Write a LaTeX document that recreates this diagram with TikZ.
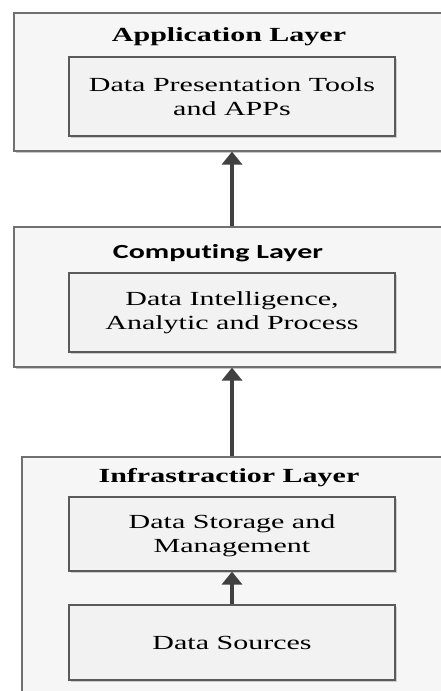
\documentclass[tikz,border=0pt]{standalone}
\usepackage{fontspec}
\setmainfont{Liberation Serif}[FakeStretch=1.5]
\newfontfamily\calibfont{Carlito}[FakeStretch=1.5,Ligatures=NoCommon]
\usetikzlibrary{shadows,arrows.meta}
\definecolor{outerfill}{RGB}{246,246,246}
\definecolor{innerfill}{RGB}{242,242,242}
\definecolor{outerline}{RGB}{112,112,112}
\definecolor{innerline}{RGB}{90,90,90}
\definecolor{arrowcol}{RGB}{64,64,64}
\tikzset{
  outerbox/.style={draw=outerline, fill=outerfill, line width=1.2pt, rectangle, inner sep=0pt,
    drop shadow={shadow xshift=1.5pt, shadow yshift=-2pt, fill=black!35, opacity=0.6}},
  innerbox/.style={draw=innerline, fill=innerfill, line width=1.2pt, rectangle, inner sep=0pt,
    minimum width=326pt, align=center, font=\fontsize{20}{24}\selectfont,
    drop shadow={shadow xshift=2pt, shadow yshift=-2pt, fill=black!30, opacity=0.6}},
  titletext/.style={anchor=base, inner sep=0pt, font=\fontsize{20}{24}\selectfont\bfseries},
  uparrow/.style={draw=arrowcol, line width=3.3pt, -{Triangle[width=20pt,length=13pt]}}
}
\begin{document}
\begin{tikzpicture}[x=1pt,y=-1pt]
\useasboundingbox (0,0) rectangle (441,691);
\fill[white] (0,0) rectangle (441,691);
% Application layer
\node[outerbox, minimum width=446pt, minimum height=138pt] (outA) at (237,82) {};
\node[titletext] (titleA) at (229,41) {Application Layer};
\node[innerbox, minimum height=79pt] (inA) at (232,96.5) {Data Presentation Tools\\and APPs};
% Computing layer
\node[outerbox, minimum width=446pt, minimum height=140pt] (outC) at (237,297) {};
\node[titletext, font=\fontsize{20}{24}\selectfont\calibfont\bfseries] (titleC) at (218,258.5) {Computing Layer};
\node[innerbox, minimum height=79pt] (inC) at (232,312.5) {Data Intelligence,\\Analytic and Process};
% Infrastructure layer
\node[outerbox, minimum width=438pt, minimum height=243pt] (outI) at (241,578.5) {};
\node[titletext] (titleI) at (229,482) {Infrastractior Layer};
\node[innerbox, minimum height=74pt, text depth=0pt] (inS) at (232,534) {Data Storage and\\Management};
\node[innerbox, minimum height=75pt] (inD) at (232,642.5) {Data Sources};
% arrows
\draw[uparrow] (outC.north -| inA.south) -- (outA.south -| inA.south);
\draw[uparrow] (outI.north -| inC.south) -- (outC.south -| inC.south);
\draw[uparrow] (inD.north) -- (inS.south);
\end{tikzpicture}
\end{document}
